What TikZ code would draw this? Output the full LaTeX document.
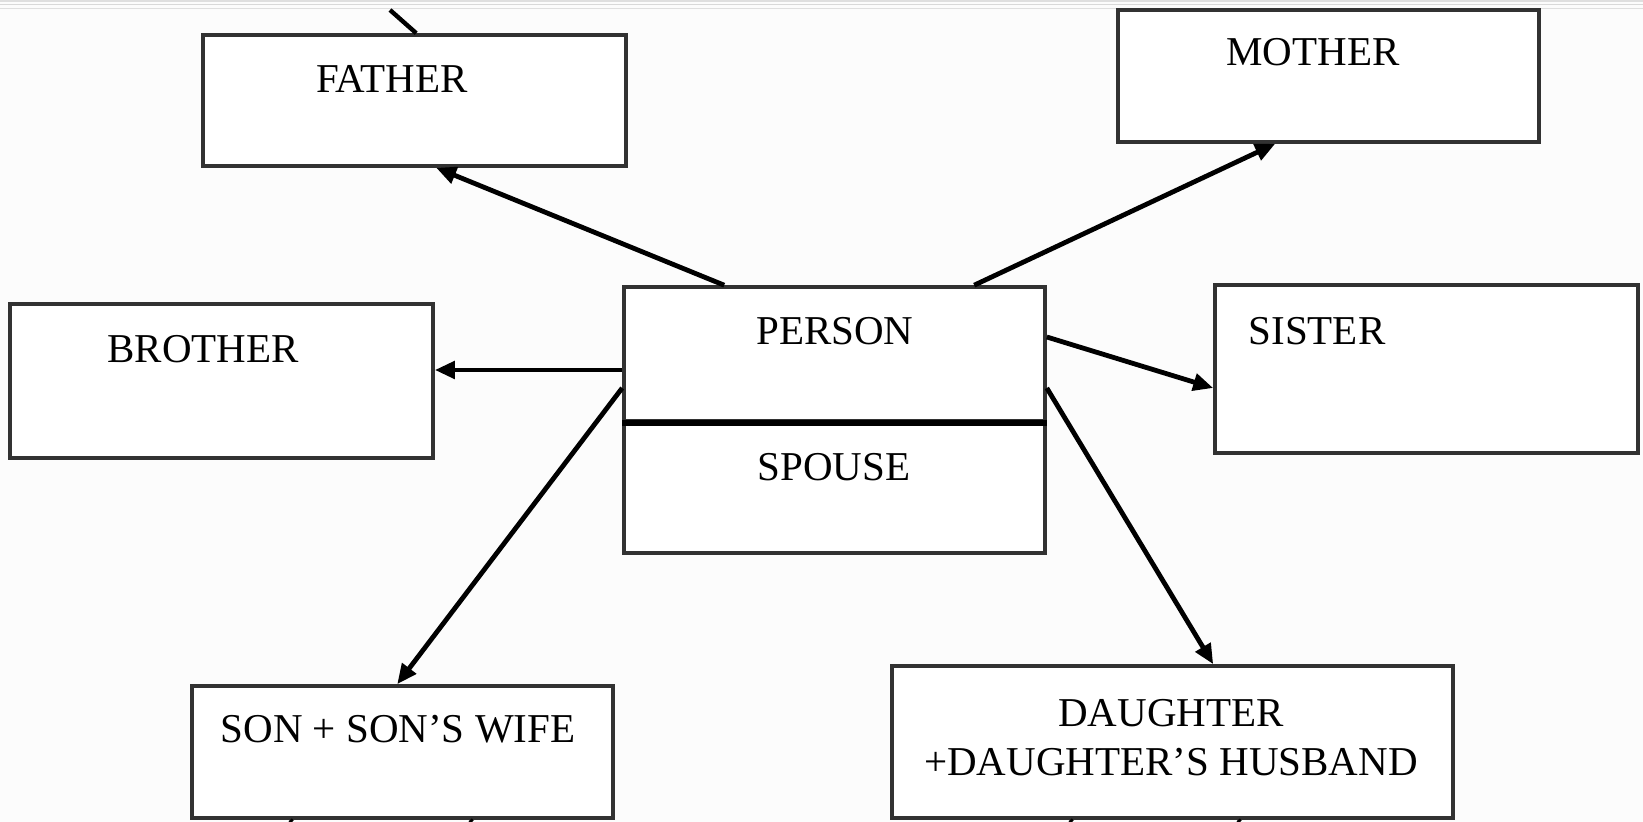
\documentclass[tikz,border=0pt]{standalone}
\usepackage{fontspec}
\setmainfont{Liberation Serif}
\usetikzlibrary{arrows.meta}

\tikzset{
  box/.style={draw={rgb,255:red,50;green,50;blue,50}, line width=1.8pt, inner sep=0pt, fill=white},
  lbl/.style={anchor=base, inner sep=0pt, font=\fontsize{20.5}{24}\selectfont},
  link/.style={line width=2.4pt, -{Triangle[length=10pt,width=8.5pt]}},
  stub/.style={line width=2.2pt},
}

\begin{document}
\begin{tikzpicture}[x=0.5pt,y=-0.5pt]
  % page area
  \useasboundingbox (0,0) rectangle (1643,822);
  \fill[white!99!black] (0,0) rectangle (1643,822);
  \draw[gray!25, line width=0.6pt] (0,1) -- (1643,1);
  \draw[gray!30, line width=0.6pt] (0,4.5) -- (1643,4.5);
  \draw[gray!25, line width=0.6pt] (0,8.5) -- (1643,8.5);

  % relative boxes
  \node[box, minimum width=211.5pt, minimum height=65.5pt] (father)   at (414.5,100.5) {};
  \node[box, minimum width=210.5pt, minimum height=66pt]   (mother)   at (1328.5,76) {};
  \node[box, minimum width=211.5pt, minimum height=77pt]   (brother)  at (221.5,381) {};
  \node[box, minimum width=211.5pt, minimum height=84pt]   (sister)   at (1426.5,369) {};
  \node[box, minimum width=210.5pt, minimum height=66pt]   (son)      at (402.5,752) {};
  \node[box, minimum width=280.5pt, minimum height=76pt]   (daughter) at (1172.5,742) {};

  % person / spouse box with its dividing line
  \node[box, minimum width=210.5pt, minimum height=67pt] (person) at (834.5,354) {};
  \node[box, minimum width=210.5pt, minimum height=66pt] (spouse) at (834.5,487) {};
  \draw[line width=2.8pt] (person.south west) -- (person.south east);

  % labels
  \node[lbl] (tfather)   at (392,93)   {FATHER};
  \node[lbl] (tmother)   at (1313,66)  {MOTHER};
  \node[lbl] (tbrother)  at (203,363)  {BROTHER};
  \node[lbl] (tperson)   at (835,345)  {PERSON};
  \node[lbl] (tspouse)   at (834,481)  {SPOUSE};
  \node[lbl] (tsister)   at (1317,345) {SISTER};
  \node[lbl] (tson)      at (398,742)  {SON + SON’S WIFE};
  \node[lbl] (tdaughter) at (1171,726) {DAUGHTER};
  \node[lbl] (thusband)  at (1171,776) {+DAUGHTER’S HUSBAND};

  % arrows from the person
  \draw[link] ([xshift=51pt]person.north west)  -- ([xshift=117.5pt]father.south west);
  \draw[link] ([xshift=176pt]person.north west) -- ([xshift=79.5pt]mother.south west);
  \draw[link] ([yshift=-8pt]person.west)        -- ([yshift=5.5pt]brother.east);
  \draw[link] ([yshift=8.5pt]person.east)       -- ([yshift=-9.5pt]sister.west);
  \draw[link] ([yshift=-17pt]person.west)       -- ([xshift=103.5pt]son.north west);
  \draw[link] ([yshift=-17pt]person.east)       -- ([xshift=161.5pt]daughter.north west);

  % lines running on beyond the page edge
  \coordinate (up)  at (390,10);
  \coordinate (d1)  at (292,822);
  \coordinate (d2)  at (472,822);
  \coordinate (d3)  at (1072,822);
  \coordinate (d4)  at (1240,822);
  \draw[stub] (up) -- ([xshift=107.5pt]father.north west);
  \draw[stub] ([xshift=50pt]son.south west)       -- (d1);
  \draw[stub] ([xshift=140pt]son.south west)      -- (d2);
  \draw[stub] ([xshift=90pt]daughter.south west)  -- (d3);
  \draw[stub] ([xshift=174pt]daughter.south west) -- (d4);
\end{tikzpicture}
\end{document}
